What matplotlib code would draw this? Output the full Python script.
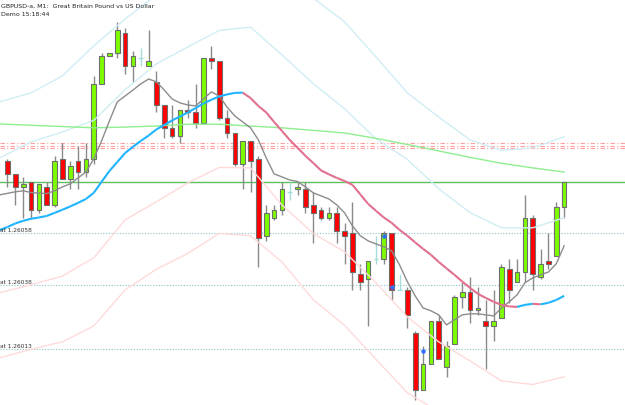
import numpy as np
import matplotlib
matplotlib.use("Agg")
import matplotlib.pyplot as plt
from matplotlib.collections import LineCollection

# ---------------- data ----------------
title_text = "GBPUSD-a, M1:  Great Britain Pound vs US Dollar"
clock_text = "Demo 15:18:44"

# candles, slot 0..71 (None = empty slot)
opens = [1.26086, 1.26081, 1.26076, 1.26078, 1.26067, 1.26076, 1.26069, 1.26087, 1.26079, 1.26086,
         1.26082, 1.26087, 1.26116, 1.26127, 1.26128, 1.26136, 1.26123, None, 1.26123, 1.26117,
         1.26108, 1.26099, 1.26096, 1.26106, 1.26105, 1.26101, 1.26126, 1.26125, 1.26103, 1.26097,
         1.26085, 1.26094, 1.26087, 1.26057, 1.26064, 1.26067, None, 1.26075, 1.26075, 1.26069,
         1.26067, 1.26064, 1.26066, 1.26059, 1.26058, 1.26042, 1.26040, None, 1.26048, 1.26058,
         None, 1.26036, 1.26019, 1.25997, 1.26007, 1.26024, 1.26006, 1.26015, 1.26033, 1.26035,
         1.26028, 1.26024, 1.26022, 1.26025, 1.26044, 1.26039, 1.26043, 1.26064, 1.26041, 1.26047,
         1.26049, 1.26068]
highs = [1.26087, 1.26081, 1.26080, 1.26078, 1.26077, 1.26078, 1.26088, 1.26093, 1.26086, 1.26092,
         1.26093, 1.26119, 1.26128, 1.26128, 1.26140, 1.26138, 1.26129, None, 1.26137, 1.26121,
         1.26108, 1.26108, 1.26106, 1.26110, 1.26116, 1.26126, 1.26131, 1.26125, 1.26106, 1.26097,
         1.26094, 1.26094, 1.26088, 1.26069, 1.26069, 1.26078, None, 1.26078, 1.26078, 1.26074,
         1.26068, 1.26068, 1.26068, 1.26062, 1.26070, 1.26046, 1.26047, None, 1.26059, 1.26058,
         None, 1.26037, 1.26020, 1.26014, 1.26024, 1.26026, 1.26016, 1.26034, 1.26039, 1.26041,
         1.26037, 1.26032, 1.26036, 1.26046, 1.26048, 1.26048, 1.26073, 1.26065, 1.26052, 1.26058,
         1.26070, 1.26078]
lows = [1.26076, 1.26069, 1.26064, 1.26064, 1.26066, 1.26069, 1.26068, 1.26079, 1.26075, 1.26075,
        1.26080, 1.26085, 1.26116, 1.26127, 1.26126, 1.26120, 1.26117, None, 1.26123, 1.26105,
        1.26095, 1.26095, 1.26093, 1.26103, 1.26099, 1.26101, 1.26122, 1.26102, 1.26095, 1.26084,
        1.26075, 1.26074, 1.26045, 1.26055, 1.26063, 1.26065, None, 1.26073, 1.26066, 1.26054,
        1.26063, 1.26063, 1.26054, 1.26046, 1.26036, 1.26036, 1.26022, None, 1.26046, 1.26032,
        None, 1.26021, 1.25993, 1.25997, 1.26007, 1.26009, 1.26002, 1.26015, 1.26029, 1.26023,
        1.26026, 1.26005, 1.26016, 1.26025, 1.26031, 1.26039, 1.26039, 1.26036, 1.26040, 1.26044,
        1.26049, 1.26064]
closes = [1.26081, 1.26076, 1.26077, 1.26067, 1.26077, 1.26069, 1.26086, 1.26079, 1.26084, 1.26082,
          1.26087, 1.26116, 1.26127, 1.26128, 1.26137, 1.26123, 1.26127, None, 1.26125, 1.26108,
          1.26099, 1.26096, 1.26106, 1.26105, 1.26101, 1.26126, 1.26125, 1.26103, 1.26097, 1.26085,
          1.26094, 1.26086, 1.26056, 1.26066, 1.26067, 1.26075, None, 1.26076, 1.26068, 1.26066,
          1.26064, 1.26066, 1.26059, 1.26057, 1.26043, 1.26039, 1.26047, None, 1.26058, 1.26036,
          None, 1.26026, 1.25997, 1.26007, 1.26024, 1.26009, 1.26014, 1.26033, 1.26035, 1.26028,
          1.26029, 1.26022, 1.26024, 1.26045, 1.26036, 1.26043, 1.26064, 1.26042, 1.26046, 1.26046,
          1.26068, 1.26078]

# faint cross marks in empty slots
ghost_slots = [17, 36, 47, 50]
ghost_high = [1.26130, 1.26078, 1.26057, 1.26042]
ghost_low = [1.26123, 1.26071, 1.26046, 1.26036]
ghost_tick = [1.26126, 1.26074, 1.26048, 1.26036]

# fast MA (grey), slots -1..71
fast_ma = [1.260729, 1.260735, 1.260741, 1.260745, 1.260738, 1.260736, 1.260734, 1.260745, 1.260760, 1.260772,
           1.260795, 1.260818, 1.260869, 1.260939, 1.261017, 1.261091, 1.261114, 1.261137, 1.261161, 1.261180,
           1.261169, 1.261137, 1.261102, 1.261087, 1.261079, 1.261075, 1.261102, 1.261130, 1.261114, 1.261071,
           1.261036, 1.261013, 1.260990, 1.260943, 1.260873, 1.260811, 1.260799, 1.260787, 1.260781, 1.260760,
           1.260737, 1.260725, 1.260713, 1.260690, 1.260659, 1.260608, 1.260570, 1.260550, 1.260538, 1.260527,
           1.260511, 1.260457, 1.260391, 1.260336, 1.260289, 1.260278, 1.260262, 1.260223, 1.260243, 1.260262,
           1.260266, 1.260266, 1.260262, 1.260258, 1.260289, 1.260313, 1.260340, 1.260387, 1.260406, 1.260418,
           1.260429, 1.260461, 1.260531]

# middle MA (blue when rising, pink when falling), slots -1..71
mid_ma = [1.260592, 1.260604, 1.260618, 1.260628, 1.260636, 1.260641, 1.260647, 1.260659, 1.260671, 1.260684,
          1.260698, 1.260713, 1.260737, 1.260780, 1.260822, 1.260857, 1.260892, 1.260916, 1.260939, 1.260960,
          1.260984, 1.261001, 1.261019, 1.261034, 1.261050, 1.261067, 1.261085, 1.261099, 1.261112, 1.261120,
          1.261126, 1.261127, 1.261106, 1.261075, 1.261050, 1.261013, 1.260978, 1.260943, 1.260912, 1.260881,
          1.260853, 1.260824, 1.260809, 1.260795, 1.260783, 1.260768, 1.260731, 1.260694, 1.260667, 1.260641,
          1.260620, 1.260593, 1.260570, 1.260544, 1.260519, 1.260496, 1.260468, 1.260443, 1.260418, 1.260392,
          1.260367, 1.260344, 1.260328, 1.260313, 1.260301, 1.260295, 1.260293, 1.260301, 1.260305, 1.260303,
          1.260309, 1.260320, 1.260336]

# slow lines sampled every 4th slot (slots -1, 3, 7, ..., 71)
slow_ma = [1.261005, 1.261000, 1.260995, 1.260990, 1.260993, 1.260997, 1.261004, 1.261004, 1.260997, 1.260990,
           1.260980, 1.260970, 1.260949, 1.260925, 1.260900, 1.260875, 1.260852, 1.260834, 1.260818]
band_up2 = [1.261091, 1.261126, 1.261192, 1.261309, 1.261414, 1.261507, 1.261559, 1.261626, 1.261659, 1.261569,
            1.261495, 1.261402, 1.261266, 1.261126, 1.261032, 1.260943, 1.260902, 1.260912, 1.260955]
band_up1 = [1.260873, 1.260935, 1.260974, 1.261019, 1.261138, 1.261239, 1.261305, 1.261369, 1.261382, 1.261274,
            1.261162, 1.261064, 1.260947, 1.260867, 1.260753, 1.260660, 1.260601, 1.260601, 1.260640]
band_lo1 = [1.260348, 1.260379, 1.260413, 1.260484, 1.260632, 1.260702, 1.260776, 1.260836, 1.260834, 1.260690,
            1.260579, 1.260507, 1.260387, 1.260254, 1.260157, 1.260083, 1.260005, 1.259991, 1.260021]
band_lo2 = [1.260095, 1.260128, 1.260157, 1.260219, 1.260359, 1.260440, 1.260501, 1.260579, 1.260570, 1.260468,
            1.260321, 1.260221, 1.260089, 1.259959, 1.259885, 1.259784, 1.259702, 1.259683, 1.259714]

# horizontal levels
green_level = 1.26078
red_levels = [1.26093, 1.26092, 1.26091]
order_levels = [1.26058, 1.26038, 1.26013]
order_labels = ["at 1.26058", "at 1.26038", "at 1.26013"]

# trade arrows
trade_slots = [48, 49, 53]
trade_prices = [1.26057, 1.26037, 1.26012]

# ---------------- drawing ----------------
W, H = 625, 405
fig = plt.figure(figsize=(W / 100, H / 100), dpi=100)
ax = fig.add_axes([0, 0, 1, 1])
ax.set_facecolor("white")
ax.set_axis_off()

SLOT_PX = 7.84
x_left = -7.5 / SLOT_PX
ax.set_xlim(x_left, x_left + W / SLOT_PX)
ax.set_ylim(1.2599112, 1.2614875)

# horizontal levels (behind)
ax.axhline(green_level, color="#5fbf5f", lw=1.0, zorder=1)
for lv in red_levels:
    ax.axhline(lv, color="#ff9f9f", lw=0.8, dashes=(4, 2, 1, 2), zorder=1)
for lv, lab in zip(order_levels, order_labels):
    ax.axhline(lv, color="#8cc4c4", lw=0.8, dashes=(1, 1.5), zorder=1)
    ax.text(x_left + 0.05, lv, lab, fontsize=4.2, color="#333333",
            va="bottom", ha="left", zorder=5)

# candles
slots = np.arange(len(opens))
body_w = 0.60
for i in slots:
    o, h, l, c = opens[i], highs[i], lows[i], closes[i]
    if o is None:
        continue
    ax.vlines(i, l, h, color="#8a8a8a", lw=1.0, zorder=2)
    up = c >= o
    bottom = min(o, c)
    height = max(abs(c - o), 0.0000012)
    ax.bar(i, height, bottom=bottom, width=body_w,
           color="#7cfc00" if up else "#ff0000",
           edgecolor="#6e6e6e", linewidth=0.8, zorder=2.5)

# ghost crosses
for s, gh, gl, gt in zip(ghost_slots, ghost_high, ghost_low, ghost_tick):
    ax.vlines(s, gl, gh, color="#a6dcdc", lw=1.0, zorder=2)
    ax.hlines(gt, s - 0.3, s + 0.3, color="#a6dcdc", lw=1.0, zorder=2)

# indicator lines
line_slots = np.arange(-1, len(opens))
band_slots = np.arange(-1, len(opens), 4)

ax.plot(band_slots, band_up2, color="#cfeef4", lw=1.0, zorder=3)
ax.plot(band_slots, band_up1, color="#cfeef4", lw=1.0, zorder=3)
ax.plot(band_slots, band_lo1, color="#ffdada", lw=1.0, zorder=3)
ax.plot(band_slots, band_lo2, color="#ffdada", lw=1.0, zorder=3)
ax.plot(band_slots, slow_ma, color="#8fee8f", lw=1.0, zorder=3)

ax.plot(line_slots, fast_ma, color="#8c8c8c", lw=1.0, zorder=3.5)

pts = np.column_stack([line_slots, mid_ma])
segs = np.stack([pts[:-1], pts[1:]], axis=1)
cols = ["#1eb4ff" if b >= a else "#e0708e" for a, b in zip(mid_ma[:-1], mid_ma[1:])]
ax.add_collection(LineCollection(segs, colors=cols, linewidths=1.5, zorder=3.6))

ax.scatter(trade_slots, trade_prices, s=5, color="#3070ff", marker="o", zorder=6)

fig.text(1 / W, 1 - 6 / H, title_text, fontsize=4.5, color="#222222", va="center", ha="left")
fig.text(1 / W, 1 - 15 / H, clock_text, fontsize=4.5, color="#222222", va="center", ha="left")

fig.savefig("out.png", dpi=100, facecolor="white")
